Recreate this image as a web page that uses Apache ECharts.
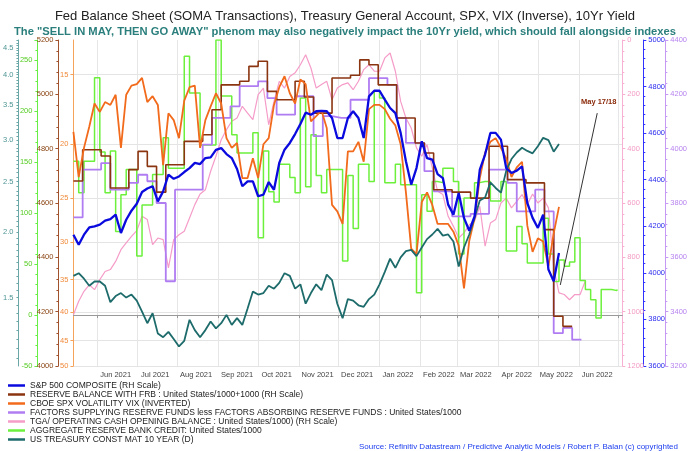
<!DOCTYPE html>
<html><head><meta charset="utf-8">
<script src="https://cdn.jsdelivr.net/npm/echarts@6/dist/echarts.min.js"></script>
<style>html,body{margin:0;padding:0;background:#fff}#c{width:690px;height:451px}</style>
</head><body><div id="c"></div>
<script>
// ---- dates (4-day grid for daily-ish series) ----
const dates4 = ['2021-05-14','2021-05-18','2021-05-22','2021-05-26','2021-05-30','2021-06-03','2021-06-07','2021-06-11','2021-06-15','2021-06-19','2021-06-23','2021-06-27','2021-07-01','2021-07-05','2021-07-09','2021-07-13','2021-07-17','2021-07-21','2021-07-25','2021-07-29','2021-08-02','2021-08-06','2021-08-10','2021-08-14','2021-08-18','2021-08-22','2021-08-26','2021-08-30','2021-09-03','2021-09-07','2021-09-11','2021-09-15','2021-09-19','2021-09-23','2021-09-27','2021-10-01','2021-10-05','2021-10-09','2021-10-13','2021-10-17','2021-10-21','2021-10-25','2021-10-29','2021-11-02','2021-11-06','2021-11-10','2021-11-14','2021-11-18','2021-11-22','2021-11-26','2021-11-30','2021-12-04','2021-12-08','2021-12-12','2021-12-16','2021-12-20','2021-12-24','2021-12-28','2022-01-01','2022-01-05','2022-01-09','2022-01-13','2022-01-17','2022-01-21','2022-01-25','2022-01-29','2022-02-02','2022-02-06','2022-02-10','2022-02-14','2022-02-18','2022-02-22','2022-02-26','2022-03-02','2022-03-06','2022-03-10','2022-03-14','2022-03-18','2022-03-22','2022-03-26','2022-03-30','2022-04-03','2022-04-07','2022-04-11','2022-04-15','2022-04-19','2022-04-23','2022-04-27','2022-05-01','2022-05-05','2022-05-09','2022-05-13','2022-05-17','2022-05-21','2022-05-25','2022-05-29','2022-06-02','2022-06-06','2022-06-10','2022-06-14','2022-06-18','2022-06-22','2022-06-26','2022-06-30'];
// ---- weekly dates (step series) ----
const weeks = ['2021-05-14','2021-05-21','2021-05-28','2021-06-04','2021-06-11','2021-06-18','2021-06-25','2021-07-02','2021-07-09','2021-07-16','2021-07-23','2021-07-30','2021-08-06','2021-08-13','2021-08-20','2021-08-27','2021-09-03','2021-09-10','2021-09-17','2021-09-24','2021-10-01','2021-10-08','2021-10-15','2021-10-22','2021-10-29','2021-11-05','2021-11-12','2021-11-19','2021-11-26','2021-12-03','2021-12-10','2021-12-17','2021-12-24','2021-12-31','2022-01-07','2022-01-14','2022-01-21','2022-01-28','2022-02-04','2022-02-11','2022-02-18','2022-02-25','2022-03-04','2022-03-11','2022-03-18','2022-03-25','2022-04-01','2022-04-08','2022-04-15','2022-04-22','2022-04-29','2022-05-06','2022-05-13','2022-05-20','2022-05-27','2022-06-03'];

// ---- series values ----
const spx = [4164,4121,4164,4195,4200,4207,4224,4231,4250,4171,
 4228,4267,4297,4347,4362,4372,4307,4350,4422,4404,
 4414,4433,4450,4472,4467,4493,4496,4528,4536,4510,
 4493,4446,4372,4393,4393,4329,4336,4390,4357,4472,
 4529,4558,4596,4639,4688,4679,4694,4696,4694,4665,
 4579,4579,4665,4694,4665,4579,4758,4782,4782,4744,
 4708,4686,4601,4479,4379,4450,4565,4493,4486,4424,
 4407,4293,4250,4343,4236,4181,4243,4443,4508,4601,
 4601,4572,4450,4429,4439,4457,4300,4236,4193,4250,
 4014,3964,4085];
const reserveBal = [4681,4796,4796,4773,4655,4655,4723,4790,4735,4640,
 4741,4741,4827,4827,4851,4943,5035,5035,5048,5103,
 5122,5011,4980,4980,5048,4990,4931,4931,5060,5060,
 5070,5127,5109,5035,5035,4913,4913,4821,4784,4649,
 4649,4640,4640,4618,4618,4809,4809,4686,4686,4674,
 4674,4502,4183,4146,4146];
const vix = [19.0,22.9,20.3,18.6,16.9,17.5,16.8,17.0,16.3,20.3,
 16.3,15.7,15.6,15.2,16.8,16.4,17.0,21.8,17.6,18.1,
 19.5,16.7,15.8,15.7,20.3,18.1,17.1,16.2,16.9,19.5,
 20.3,19.9,23.0,23.0,21.2,23.0,20.0,19.5,17.0,15.8,
 15.1,16.2,16.9,15.3,15.6,18.2,17.8,17.4,18.7,25.7,
 26.4,27.8,20.6,20.6,19.8,21.5,17.3,17.0,17.0,17.3,
 18.0,18.5,20.0,24.4,30.8,31.5,25.4,24.4,25.7,27.8,
 27.8,27.8,28.7,30.4,36.3,29.8,27.2,23.0,20.7,19.8,
 19.5,20.3,21.2,22.9,22.0,21.5,28.0,31.2,29.5,29.9,
 33.1,28.9,25.9];
const factors = [3747,3923,3923,3947,3849,3849,3874,3904,3880,3800,
 3512,3849,3849,3849,4015,4113,4113,4156,4230,4230,
 4248,4186,4125,4125,4193,4193,4046,4120,4113,4113,
 4180,4180,4260,4260,4235,4113,4021,4021,3917,3843,
 3843,3751,3751,3760,3760,3923,3923,3874,3769,3769,
 3849,3769,3321,3340,3297,3297];
const tga = [1011,962,925,901,919,882,852,845,815,772,
 747,723,702,649,661,753,729,735,839,735,
 717,704,655,606,567,551,483,428,367,330,
 299,287,244,269,293,201,177,312,226,152,
 177,134,121,91,54,103,177,164,152,220,
 177,164,158,183,152,109,91,115,115,66,
 48,115,226,287,324,397,428,385,471,557,
 569,649,686,729,710,680,667,612,759,674,
 661,600,582,618,594,569,606,567,600,582,
 618,839,931,937,956,937,937,886];
const aggCredit = [151,120,151,151,233,160,120,161,82,118,
 143,143,58,108,108,138,138,174,144,144,
 144,254,218,218,167,167,167,270,215,215,
 177,159,159,159,179,76,161,121,111,148,
 148,135,120,213,126,177,137,120,143,143,
 143,53,137,85,148,148,131,220,213,130,
 130,148,128,128,128,22,118,102,131,130,
 144,144,131,60,115,115,130,131,131,112,
 112,131,63,63,87,70,51,51,51,95,
 60,33,54,48,52,76,34,25,15,-3,
 25,25,24,25];
const tsy10 = [1.65,1.67,1.63,1.58,1.61,1.61,1.58,1.47,1.51,1.53,
 1.50,1.52,1.48,1.41,1.34,1.40,1.28,1.26,1.29,1.25,
 1.21,1.24,1.36,1.30,1.26,1.30,1.35,1.31,1.34,1.39,
 1.33,1.37,1.33,1.43,1.54,1.52,1.53,1.58,1.56,1.60,
 1.67,1.65,1.56,1.59,1.46,1.53,1.59,1.55,1.66,1.62,
 1.46,1.37,1.49,1.48,1.45,1.44,1.49,1.52,1.59,1.68,
 1.78,1.71,1.79,1.84,1.85,1.80,1.87,1.94,1.98,2.03,
 1.97,1.98,1.92,1.72,1.87,1.98,2.13,2.30,2.33,2.49,
 2.43,2.38,2.62,2.76,2.84,2.90,2.86,2.83,2.92,3.03,
 3.00,2.85,2.95];

// ---- axis tick labels ----
const monthStarts = ['2021-06-01','2021-07-01','2021-08-01','2021-09-01','2021-10-01','2021-11-01','2021-12-01','2022-01-01','2022-02-01','2022-03-01','2022-04-01','2022-05-01','2022-06-01','2022-07-01'];
const monthLabelDates = ['2021-06-15','2021-07-15','2021-08-15','2021-09-15','2021-10-15','2021-11-15','2021-12-15','2022-01-15','2022-02-15','2022-03-15','2022-04-15','2022-05-15','2022-06-15'];
const vixTicks = [15,20,25,30,35,40,45,50];
const yieldTicks = [1.5,2.0,2.5,3.0,3.5,4.0,4.5];
const arrowFrom = ['2022-06-15', 4686];
const arrowTo = ['2022-05-18', 3948];
const annotationText = 'May 17/18';

const names = {
  spx: 'S&P 500 COMPOSITE (RH Scale)',
  res: 'RESERVE BALANCE WITH FRB : United States/1000+1000 (RH Scale)',
  vix: 'CBOE SPX VOLATILITY VIX (INVERTED)',
  fac: 'FACTORS SUPPLYING RESERVE FUNDS less FACTORS ABSORBING RESERVE FUNDS : United States/1000',
  tga: 'TGA/ OPERATING CASH OPENING BALANCE : United States/1000) (RH Scale)',
  agg: 'AGGREGATE RESERVE BANK CREDIT: United States/1000',
  tsy: 'US TREASURY CONST MAT 10 YEAR (D)'
};
const C = {spx:'#0a0adf', res:'#8b3510', vix:'#f26a1b', fac:'#b07cf2', tga:'#f59cc8', agg:'#6cf03c', tsy:'#1e6b6b'};

const MONTHS = ['Jan','Feb','Mar','Apr','May','Jun','Jul','Aug','Sep','Oct','Nov','Dec'];
function ts(s){const p=s.split('-');return Date.UTC(+p[0],+p[1]-1,+p[2]);}
function pairs(d, v){return v.map((x,i)=>[ts(d[i]), x]);}
const FONT = "'Liberation Sans', Arial, sans-serif";
const plain = v => String(v);

// minor ticks for the yield log axis
const yieldMinor = [];
for (let i = 23; i <= 93; i++) yieldMinor.push(+(i*0.05).toFixed(2));

function yAx(o){
  const col = o.color;
  return Object.assign({
    type:'value', position:o.pos, offset:o.off, min:o.min, max:o.max,
    axisLine:{show:true, onZero:false, lineStyle:{color:col, width:1}},
    axisTick:{show:true, length:3, lineStyle:{color:col}},
    minorTick:{show:true, splitNumber:5, length:2, lineStyle:{color:col}},
    axisLabel:{color:o.lcolor||col, fontSize:7.5, margin:5, fontFamily:FONT, formatter:plain},
    splitLine:{show:false}
  }, o.extra||{});
}

const chart = echarts.init(document.getElementById('c'), null, {renderer:'canvas'});
chart.setOption({
  animation:false,
  backgroundColor:'#fff',
  title:[
    {text:'Fed Balance Sheet (SOMA Transactions), Treasury General Account, SPX, VIX (Inverse), 10Yr Yield', left:'center', top:5,
     textStyle:{fontSize:13, fontWeight:'normal', color:'#222', fontFamily:FONT}},
    {text:'The "SELL IN MAY, THEN GO AWAY" phenom may also negatively impact the 10Yr yield, which should fall alongside indexes', left:'center', top:21,
     textStyle:{fontSize:11.2, fontWeight:'bold', color:'#2a7f7c', fontFamily:FONT}},
    {text:'Source: Refinitiv Datastream / Predictive Analytic Models / Robert P. Balan (c) copyrighted', right:7, top:438,
     textStyle:{fontSize:8, fontWeight:'normal', color:'#2040ee', fontFamily:FONT}}
  ],
  legend:{
    orient:'vertical', left:8, top:381, padding:0, height:70, itemWidth:17, itemHeight:2.5, itemGap:0, icon:'rect',
    textStyle:{fontSize:8.5, lineHeight:8.6, color:'#222', fontFamily:FONT},
    data:[names.spx, names.res, names.vix, names.fac, names.tga, names.agg, names.tsy]
  },
  grid:{left:72, right:64, top:40, bottom:85, containLabel:false},
  xAxis:{
    type:'value', min:ts('2021-05-14'), max:ts('2022-07-04'),
    axisLine:{lineStyle:{color:'#999'}},
    axisTick:{customValues:monthStarts.map(ts), length:3, lineStyle:{color:'#999'}},
    minorTick:{show:false},
    axisLabel:{customValues:monthLabelDates.map(ts), fontSize:7.5, color:'#444', margin:5, fontFamily:FONT,
      formatter:function(v){const d=new Date(v);return MONTHS[d.getUTCMonth()]+' '+d.getUTCFullYear();}},
    splitLine:{show:true, lineStyle:{color:'#e6e6e6'}}
  },
  yAxis:[
    Object.assign(yAx({pos:'left', off:0, min:13, max:50, color:'#f5a25a', lcolor:'#f08a3a'}), {
      type:'log', inverse:true, logBase:10,
      axisTick:{customValues:vixTicks, length:3, lineStyle:{color:'#f5a25a'}},
      minorTick:{show:false},
      axisLabel:{customValues:vixTicks, color:'#f08a3a', fontSize:7.5, margin:5, fontFamily:FONT, formatter:plain},
      splitLine:{show:true, lineStyle:{color:'#e4e4e4'}}
    }),
    yAx({pos:'left', off:15, min:4000, max:5200, color:'#a0522d', lcolor:'#8b4513', extra:{interval:200}}),
    Object.assign(yAx({pos:'left', off:36, min:-50, max:270, color:'#66ee44', lcolor:'#55cc22', extra:{interval:50}}), {
      axisLabel:{color:'#55cc22', fontSize:7.5, margin:5, fontFamily:FONT, showMaxLabel:false, formatter:plain}
    }),
    Object.assign(yAx({pos:'left', off:55, min:1.11, max:4.66, color:'#6aa6a6', lcolor:'#4e9494'}), {
      type:'log', logBase:10,
      axisTick:{customValues:yieldMinor, length:2, lineStyle:{color:'#6aa6a6'}},
      minorTick:{show:false},
      axisLabel:{customValues:yieldTicks, color:'#4e9494', fontSize:7.5, margin:5, fontFamily:FONT,
        formatter:function(v){return (+v).toFixed(1);}}
    }),
    yAx({pos:'right', off:0, min:0, max:1200, color:'#f7b0d2', lcolor:'#f39ac4', extra:{interval:200, inverse:true}}),
    yAx({pos:'right', off:21, min:3600, max:5000, color:'#3030ff', lcolor:'#2a2aee', extra:{interval:200}}),
    yAx({pos:'right', off:43, min:3200, max:4400, color:'#c699f4', lcolor:'#b784f0', extra:{interval:200}})
  ],
  series:[
    {name:names.tga, type:'line', yAxisIndex:4, showSymbol:false, symbol:'none',
     lineStyle:{color:C.tga, width:1.2}, itemStyle:{color:C.tga}, data:pairs(dates4, tga)},
    {name:names.agg, type:'line', yAxisIndex:2, step:'end', showSymbol:false, symbol:'none',
     lineStyle:{color:C.agg, width:1.5}, itemStyle:{color:C.agg}, data:pairs(dates4, aggCredit)},
    {name:names.fac, type:'line', yAxisIndex:6, step:'end', showSymbol:false, symbol:'none',
     lineStyle:{color:C.fac, width:1.8}, itemStyle:{color:C.fac}, data:pairs(weeks, factors)},
    {name:names.res, type:'line', yAxisIndex:1, step:'end', showSymbol:false, symbol:'none',
     lineStyle:{color:C.res, width:1.6}, itemStyle:{color:C.res}, data:pairs(weeks, reserveBal)},
    {name:names.vix, type:'line', yAxisIndex:0, showSymbol:false, symbol:'none',
     lineStyle:{color:C.vix, width:1.8}, itemStyle:{color:C.vix}, data:pairs(dates4, vix)},
    {name:names.tsy, type:'line', yAxisIndex:3, showSymbol:false, symbol:'none',
     lineStyle:{color:C.tsy, width:1.8}, itemStyle:{color:C.tsy}, data:pairs(dates4, tsy10)},
    {name:names.spx, type:'line', yAxisIndex:5, showSymbol:false, symbol:'none',
     lineStyle:{color:C.spx, width:2.3}, itemStyle:{color:C.spx}, data:pairs(dates4, spx),
     markLine:{silent:true, symbol:['none','arrow'], symbolSize:[0,7], animation:false,
       lineStyle:{color:'#333', width:1, type:'solid'}, label:{show:false},
       data:[[{coord:[ts(arrowFrom[0]), arrowFrom[1]]}, {coord:[ts(arrowTo[0]), arrowTo[1]]}]]}}
  ],
  graphic:[
    {type:'text', left:581, top:98, z:100, style:{text:annotationText, fill:'#8b2a0a', font:"bold 7.5px 'Liberation Sans', Arial, sans-serif"}}
  ]
});
</script></body></html>
